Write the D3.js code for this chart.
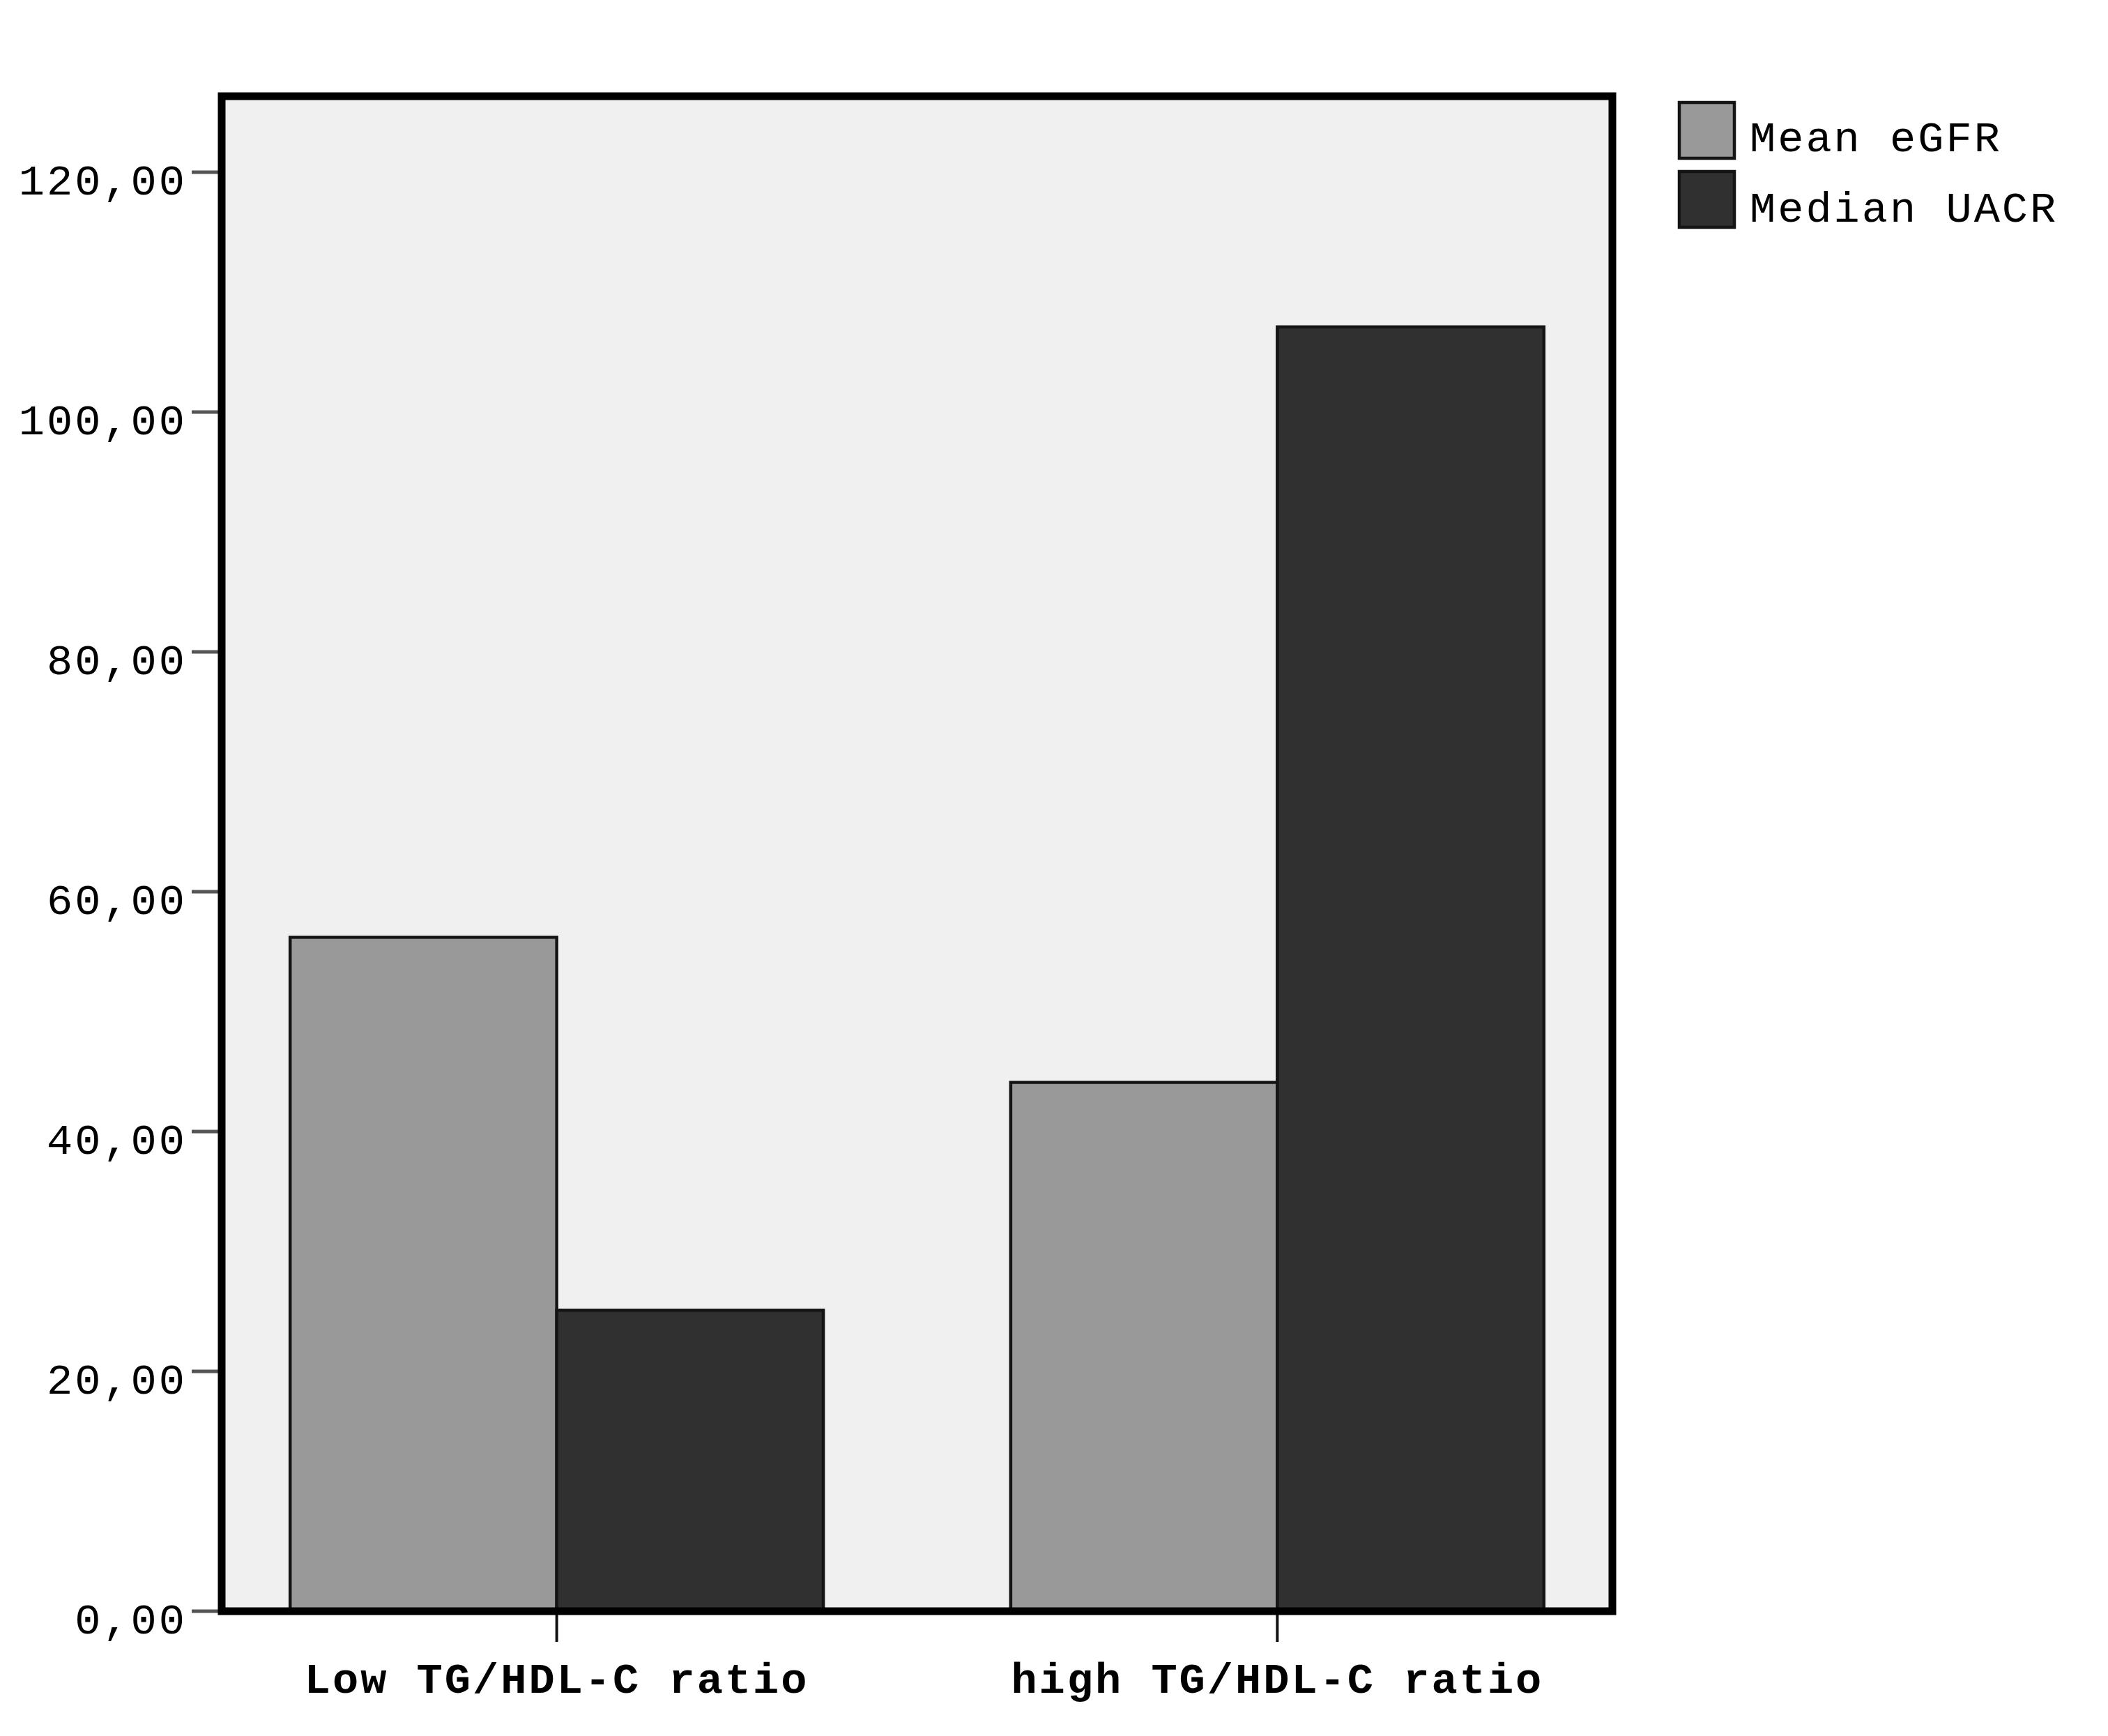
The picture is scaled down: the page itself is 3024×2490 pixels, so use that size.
<!DOCTYPE html>
<html>
<head>
<meta charset="utf-8">
<script src="https://cdn.jsdelivr.net/npm/d3@7"></script>
<style>
  html, body { margin: 0; padding: 0; background: #ffffff; }
  svg { display: block; }
  text { font-family: "Liberation Mono", "DejaVu Sans Mono", monospace; }
</style>
</head>
<body>
<svg id="chart" width="3024" height="2490"></svg>
<script>
// ---- data ----
const categories = ["Low TG/HDL-C ratio", "high TG/HDL-C ratio"];
const seriesNames = ["Mean eGFR", "Median UACR"];
const meanEGFR = [56.2, 44.1];
const medianUACR = [25.1, 107.1];
const yTicks = [0, 20, 40, 60, 80, 100, 120];
const seriesColors = ["#999999", "#303030"];

const seriesValues = [meanEGFR, medianUACR];

// ---- layout ----
const svg = d3.select("#chart");
const frame = { left: 318, right: 2313, top: 138, bottom: 2311 };

const y = d3.scaleLinear().domain([0, 120]).range([2311, 247]);
const x = d3.scaleBand().domain(categories).range([frame.left, frame.right])
  .paddingInner(0.26).paddingOuter(0.095);
const xs = d3.scaleBand().domain(seriesNames).range([0, x.bandwidth()]).padding(0);

const fmt = v => d3.format(".2f")(v).replace(".", ",");

// plot background
svg.append("rect")
  .attr("x", frame.left).attr("y", frame.top)
  .attr("width", frame.right - frame.left).attr("height", frame.bottom - frame.top)
  .attr("fill", "#f0f0f0");

// bars
const groups = svg.selectAll("g.cat").data(categories).enter().append("g")
  .attr("class", "cat")
  .attr("transform", d => `translate(${x(d)},0)`);

groups.each(function(cat, ci) {
  const g = d3.select(this);
  seriesNames.forEach((s, si) => {
    const v = seriesValues[si][ci];
    g.append("rect")
      .attr("x", xs(s))
      .attr("y", y(v))
      .attr("width", xs.bandwidth())
      .attr("height", y(0) - y(v))
      .attr("fill", seriesColors[si])
      .attr("stroke", "#141414")
      .attr("stroke-width", 4.5);
  });
});

// y axis ticks
const yAxis = svg.append("g");
yAxis.selectAll("line").data(yTicks).enter().append("line")
  .attr("x1", 275).attr("x2", frame.left)
  .attr("y1", d => y(d)).attr("y2", d => y(d))
  .attr("stroke", "#555555").attr("stroke-width", 5);
yAxis.selectAll("text").data(yTicks).enter().append("text")
  .attr("x", 268).attr("y", d => y(d) + 32)
  .attr("text-anchor", "end")
  .attr("font-size", 62)
  .attr("letter-spacing", 3)
  .attr("fill", "#000")
  .text(d => fmt(d));

// x axis ticks and labels
const xAxis = svg.append("g");
xAxis.selectAll("line").data(categories).enter().append("line")
  .attr("x1", d => x(d) + x.bandwidth() / 2).attr("x2", d => x(d) + x.bandwidth() / 2)
  .attr("y1", frame.bottom).attr("y2", 2355)
  .attr("stroke", "#111").attr("stroke-width", 4);
xAxis.selectAll("text").data(categories).enter().append("text")
  .attr("x", d => x(d) + x.bandwidth() / 2)
  .attr("y", 2428)
  .attr("text-anchor", "middle")
  .attr("font-size", 62)
  .attr("font-weight", "bold")
  .attr("letter-spacing", 3)
  .attr("fill", "#000")
  .text(d => d);

// frame
svg.append("rect")
  .attr("x", frame.left).attr("y", frame.top)
  .attr("width", frame.right - frame.left).attr("height", frame.bottom - frame.top)
  .attr("fill", "none")
  .attr("stroke", "#000").attr("stroke-width", 11);

// legend
const legend = svg.append("g");
seriesNames.forEach((s, i) => {
  const top = 147 + i * 99;
  legend.append("rect")
    .attr("x", 2409).attr("y", top)
    .attr("width", 79).attr("height", 80)
    .attr("fill", seriesColors[i])
    .attr("stroke", "#141414").attr("stroke-width", 4.5);
  legend.append("text")
    .attr("x", 2510).attr("y", 217 + i * 101)
    .attr("font-size", 62)
    .attr("letter-spacing", 3)
    .attr("fill", "#000")
    .text(s);
});
</script>
</body>
</html>
